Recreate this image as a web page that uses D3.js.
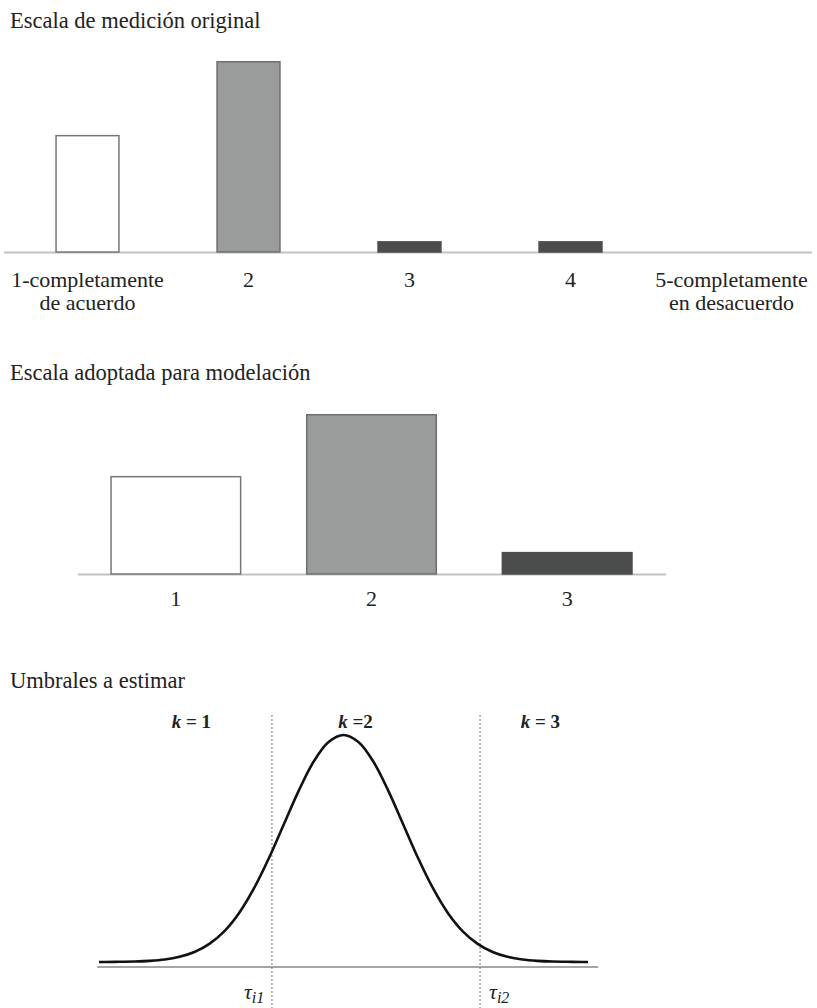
<!DOCTYPE html>
<html><head><meta charset="utf-8">
<script src="https://cdn.jsdelivr.net/npm/d3@7"></script>
<style>
html,body{margin:0;padding:0;background:#fff;}
svg{display:block;}
</style></head>
<body>
<script>
// ---- Data ----
const titles = ["Escala de medición original", "Escala adoptada para modelación", "Umbrales a estimar"];
const cats1 = ["1", "2", "3", "4", "5"];
const labels1 = [["1-completamente", "de acuerdo"], ["2"], ["3"], ["4"], ["5-completamente", "en desacuerdo"]];
const values1 = [35.5, 57.9, 3.3, 3.3, 0];
const cats2 = ["1", "2", "3"];
const values2 = [35.0, 57.1, 7.9];
const barFills = ["#ffffff", "#9a9c9c", "#4b4d4d", "#4b4d4d", "#4b4d4d"];
const barStrokes = ["#777777", "#6e7070", "#4b4d4d", "#4b4d4d", "#4b4d4d"];
const curveX = [-4.1, -4, -3.75, -3.5, -3.25, -3, -2.75, -2.5, -2.25, -2, -1.75, -1.5, -1.25, -1, -0.75, -0.5, -0.25, 0,
                0.25, 0.5, 0.75, 1, 1.25, 1.5, 1.75, 2, 2.25, 2.5, 2.75, 3, 3.25, 3.5, 3.75, 4, 4.1];
const curveY = [0.000, 0.000, 0.001, 0.002, 0.005, 0.011, 0.023, 0.044, 0.080, 0.135, 0.216, 0.325, 0.458, 0.607, 0.755, 0.883, 0.969, 1.000,
                0.969, 0.883, 0.755, 0.607, 0.458, 0.325, 0.216, 0.135, 0.080, 0.044, 0.023, 0.011, 0.005, 0.002, 0.001, 0.000, 0.000];
const thresholds = [-1.2, 2.29];
const thresholdLabels = ["1", "2"];
const regionLabels = [{x: -2.55, t: "= 1"}, {x: 0.2, t: "=2"}, {x: 3.3, t: "= 3"}];

const SERIF = "'Liberation Serif', 'Times New Roman', 'DejaVu Serif', serif";
const W = 817, H = 1008;
const svg = d3.select("body").append("svg").attr("width", W).attr("height", H)
  .attr("font-family", SERIF);
svg.append("rect").attr("width", W).attr("height", H).attr("fill", "#fff");

function txt(g, x, y, s, size) {
  return g.append("text").attr("x", x).attr("y", y).attr("font-size", size)
    .attr("font-family", SERIF).attr("fill", "#222").text(s);
}

// ---- Panel 1 ----
const g1 = svg.append("g");
txt(g1, 10, 28, titles[0], 22.5);
const x1 = d3.scaleBand().domain(cats1).range([7, 812]).paddingInner(0.6).paddingOuter(0.3);
const y1 = d3.scaleLinear().domain([0, 57.9]).range([252, 61]);
g1.append("line").attr("x1", 4).attr("x2", 812).attr("y1", 252.5).attr("y2", 252.5)
  .attr("stroke", "#c8c0c0").attr("stroke-width", 2);
values1.forEach((v, i) => {
  if (v <= 0) return;
  g1.append("rect")
    .attr("x", x1(cats1[i]) + 0.75).attr("y", y1(v) + 0.75)
    .attr("width", x1.bandwidth() - 1.5).attr("height", y1(0) - y1(v) - 0.75)
    .attr("fill", barFills[i]).attr("stroke", barStrokes[i]).attr("stroke-width", 1.5);
});
labels1.forEach((lines, i) => {
  const cx = x1(cats1[i]) + x1.bandwidth() / 2;
  lines.forEach((ln, j) => {
    txt(g1, cx, 287 + j * 23, ln, 22).attr("text-anchor", "middle");
  });
});

// ---- Panel 2 ----
const g2 = svg.append("g");
txt(g2, 10, 380, titles[1], 22.5);
const x2 = d3.scaleBand().domain(cats2).range([78, 665]).paddingInner(0.33).paddingOuter(0.165);
const y2 = d3.scaleLinear().domain([0, 57.1]).range([574, 414]);
g2.append("line").attr("x1", 78).attr("x2", 666).attr("y1", 574.5).attr("y2", 574.5)
  .attr("stroke", "#c8c0c0").attr("stroke-width", 2);
values2.forEach((v, i) => {
  g2.append("rect")
    .attr("x", x2(cats2[i]) + 0.75).attr("y", y2(v) + 0.75)
    .attr("width", x2.bandwidth() - 1.5).attr("height", y2(0) - y2(v) - 0.75)
    .attr("fill", barFills[i]).attr("stroke", barStrokes[i]).attr("stroke-width", 1.5);
  txt(g2, x2(cats2[i]) + x2.bandwidth() / 2, 606, cats2[i], 22).attr("text-anchor", "middle");
});

// ---- Panel 3 ----
const g3 = svg.append("g");
txt(g3, 10, 688, titles[2], 22.5);
const x3 = d3.scaleLinear().domain([-4.1, 4.1]).range([99, 588]);
const y3 = d3.scaleLinear().domain([0, 1]).range([962, 735]);
g3.append("line").attr("x1", x3(-4.13)).attr("x2", x3(4.27)).attr("y1", y3(-0.022)).attr("y2", y3(-0.022))
  .attr("stroke", "#a8a4a4").attr("stroke-width", 2);
thresholds.forEach((t, i) => {
  g3.append("line").attr("x1", x3(t)).attr("x2", x3(t)).attr("y1", 715).attr("y2", H)
    .attr("stroke", "#777").attr("stroke-width", 1).attr("stroke-dasharray", "2,2");
  const lbl = txt(g3, x3(t) + (i === 0 ? -28 : 9), 999, "", 22).attr("font-style", "italic");
  lbl.append("tspan").text("τ");
  lbl.append("tspan").attr("font-size", 16).attr("dy", 4).text("i" + thresholdLabels[i]);
});
const pts = curveX.map((x, i) => [x, curveY[i]]);
g3.append("path").datum(pts)
  .attr("d", d3.line().x(d => x3(d[0])).y(d => y3(d[1])).curve(d3.curveCatmullRom))
  .attr("fill", "none").attr("stroke", "#111").attr("stroke-width", 2.6);
regionLabels.forEach(r => {
  const t = txt(g3, x3(r.x), 728, "", 19).attr("text-anchor", "middle").attr("font-weight", "bold");
  t.append("tspan").attr("font-style", "italic").text("k ");
  t.append("tspan").text(r.t);
});
</script>
</body></html>
